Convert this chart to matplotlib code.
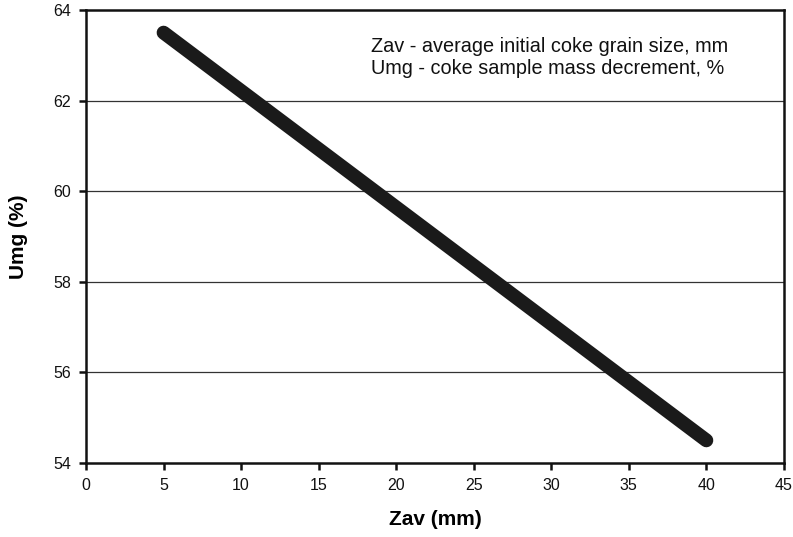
import matplotlib
matplotlib.use("Agg")
import matplotlib.pyplot as plt

zav = [5, 40]
umg = [63.5, 54.5]
xticks = [0, 5, 10, 15, 20, 25, 30, 35, 40, 45]
yticks = [54, 56, 58, 60, 62, 64]

plt.rcParams['font.family'] = ['Liberation Sans', 'DejaVu Sans']
fig = plt.figure(figsize=(7.93, 5.37), dpi=100)
ax = fig.add_axes([0.1085, 0.1378, 0.88, 0.8436])
ax.plot(zav, umg, color='#1a1a1a', lw=10, solid_capstyle='round')
ax.set_xlim(0, 45)
ax.set_ylim(54, 64)
ax.set_xticks(xticks)
ax.set_yticks(yticks)
for y in yticks[1:-1]:
    ax.axhline(y, color='#333333', lw=0.9, zorder=0)
for s in ax.spines.values():
    s.set_linewidth(1.8)
    s.set_color('#111111')
ax.tick_params(direction='out', length=5, width=1.8, labelsize=11.5, colors='#111111', pad=6)
ax.set_xlabel('Zav (mm)', fontsize=15, fontweight='bold', labelpad=12)
ax.set_ylabel('Umg (%)', fontsize=15, fontweight='bold', labelpad=18)
ax.text(0.408, 0.94, 'Zav - average initial coke grain size, mm\nUmg - coke sample mass decrement, %',
        transform=ax.transAxes, fontsize=14.3, va='top', ha='left', linespacing=1.2,
        color='#111111')
fig.savefig('out.png', dpi=100)
